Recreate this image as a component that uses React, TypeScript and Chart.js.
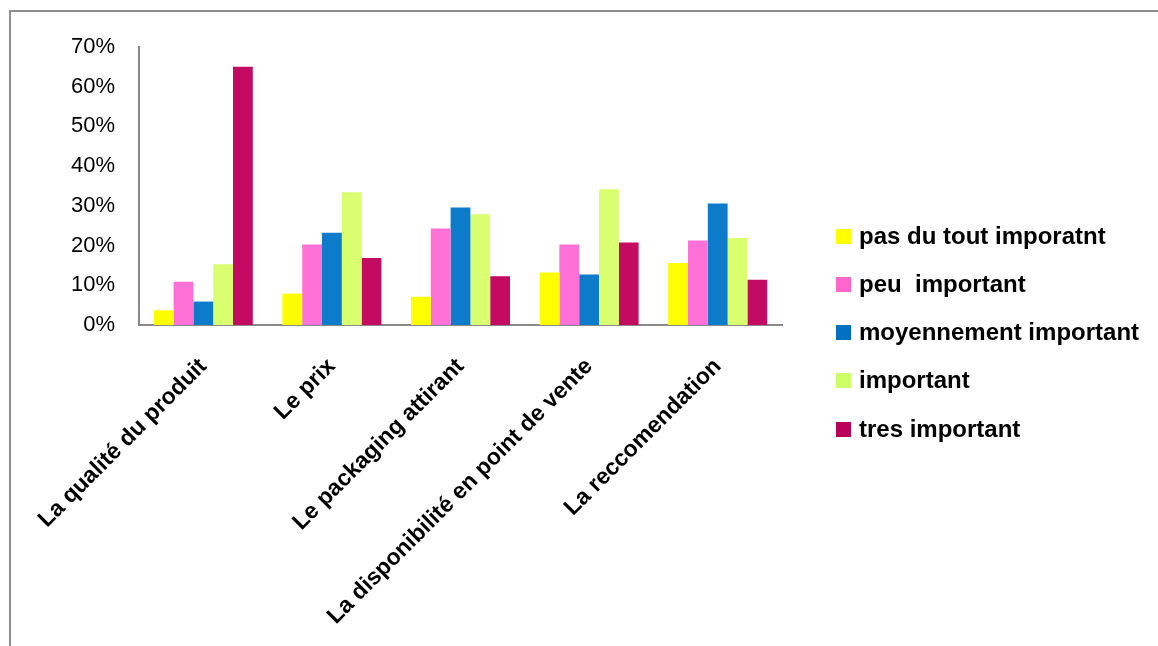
import React, { useEffect, useRef } from "react";
import { Chart, registerables } from "chart.js";

Chart.register(...registerables);

const categories = [
  "La qualité du produit",
  "Le prix",
  "Le packaging attirant",
  "La disponibilité en point de vente",
  "La reccomendation",
];
const seriesNames = [
  "pas du tout imporatnt",
  "peu  important",
  "moyennement important",
  "important",
  "tres important",
];
const pasDuTout = [3.7, 7.9, 7.1, 13.2, 15.6];
const peu = [10.9, 20.3, 24.3, 20.3, 21.3];
const moyennement = [5.9, 23.2, 29.6, 12.7, 30.6];
const importantVals = [15.3, 33.4, 27.9, 34.2, 21.9];
const tres = [65, 16.9, 12.3, 20.8, 11.4];
const yTicks = [0, 10, 20, 30, 40, 50, 60, 70];

const barColors = ["#FFFF00", "#FF71D6", "#0C7CCA", "#D9FF70", "#C30B62"];
const legendColors = ["#FFFF00", "#FF66CC", "#0070C0", "#CCFF66", "#B8005A"];

export default function App() {
  const ref = useRef<HTMLCanvasElement | null>(null);

  useEffect(() => {
    if (!ref.current) return;
    const values = [pasDuTout, peu, moyennement, importantVals, tres];
    const chart = new Chart(ref.current, {
      type: "bar",
      data: {
        labels: categories,
        datasets: seriesNames.map((name, i) => ({
          label: name,
          data: values[i],
          backgroundColor: barColors[i],
          borderWidth: 0,
          categoryPercentage: 0.77,
          barPercentage: 1.0,
        })),
      },
      options: {
        animation: false,
        responsive: false,
        maintainAspectRatio: false,
        layout: { padding: { left: 0, top: 47, right: 376, bottom: 0 } },
        plugins: {
          legend: { display: false },
          tooltip: { enabled: false },
        },
        scales: {
          x: {
            grid: { display: false, drawTicks: false, tickLength: 0 },
            border: { display: true, color: "#8a8a8a", width: 2 },
            ticks: {
              minRotation: 45,
              maxRotation: 45,
              padding: 28,
              color: "#000",
              font: { family: "Liberation Sans", size: 23, weight: "bold" },
            },
            afterFit: (s: any) => {
              s.height = 321;
            },
          },
          y: {
            min: 0,
            max: 70,
            afterBuildTicks: (s: any) => {
              s.ticks = yTicks.map((v) => ({ value: v }));
            },
            grid: { display: false, drawTicks: false, tickLength: 0 },
            border: { display: true, color: "#8a8a8a", width: 2 },
            ticks: {
              padding: 24,
              color: "#000",
              font: { family: "Liberation Sans", size: 22 },
              callback: (v: any) => v + "%",
            },
            afterFit: (s: any) => {
              s.width = 139;
            },
          },
        },
      },
    });
    return () => chart.destroy();
  }, []);

  const rowCenters = [236, 284, 332, 380, 429];

  return (
    <div
      style={{
        position: "fixed",
        left: 0,
        top: 0,
        width: 1158,
        height: 646,
        background: "#fff",
        overflow: "hidden",
      }}
    >
      <canvas ref={ref} width={1158} height={646} style={{ position: "absolute", left: 0, top: 0 }} />
      <div
        style={{
          position: "absolute",
          left: 9,
          top: 10,
          width: 1160,
          height: 660,
          borderTop: "2px solid #8f8f8f",
          borderLeft: "2px solid #8f8f8f",
          pointerEvents: "none",
        }}
      />
      {seriesNames.map((name, i) => (
        <div
          key={name}
          style={{
            position: "absolute",
            left: 836,
            top: rowCenters[i] - 15,
            height: 30,
            display: "flex",
            alignItems: "center",
            fontFamily: "Liberation Sans",
            fontWeight: "bold",
            fontSize: 24,
            whiteSpace: "pre",
            color: "#000",
          }}
        >
          <span
            style={{
              display: "inline-block",
              width: 15,
              height: 15,
              background: legendColors[i],
              marginRight: 8,
            }}
          />
          <span>{name}</span>
        </div>
      ))}
    </div>
  );
}
